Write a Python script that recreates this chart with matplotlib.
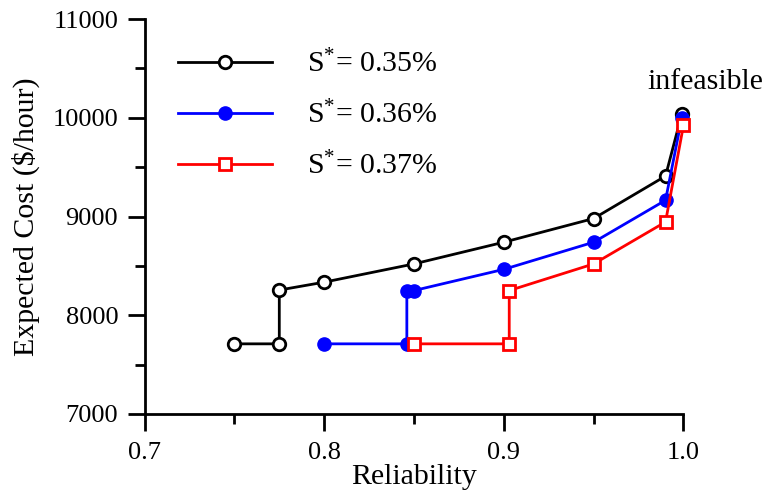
import matplotlib
matplotlib.use("Agg")
import matplotlib.pyplot as plt
from matplotlib.ticker import MultipleLocator

plt.rcParams['font.family'] = ['Liberation Serif', 'DejaVu Serif']
plt.rcParams['mathtext.fontset'] = 'custom'
plt.rcParams['mathtext.rm'] = 'Liberation Serif'
plt.rcParams['mathtext.it'] = 'Liberation Serif:italic'

rel_035 = [0.75, 0.775, 0.775, 0.80, 0.85, 0.90, 0.95, 0.99, 0.999]
cost_035 = [7710, 7710, 8255, 8335, 8520, 8740, 8980, 9410, 10035]
rel_036 = [0.80, 0.846, 0.846, 0.85, 0.90, 0.95, 0.99, 0.999]
cost_036 = [7710, 7710, 8250, 8250, 8465, 8740, 9165, 9995]
rel_037 = [0.85, 0.903, 0.903, 0.95, 0.99, 1.0]
cost_037 = [7710, 7710, 8250, 8520, 8945, 9925]
labels = [r'$\mathregular{S^{*}}$= 0.35%', r'$\mathregular{S^{*}}$= 0.36%', r'$\mathregular{S^{*}}$= 0.37%']
xtick_labels = ['0.7', '0.8', '0.9', '1.0']

fig = plt.figure(figsize=(7.71, 4.91), dpi=100)
ax = fig.add_axes([0.1875, 0.157, 0.699, 0.804])

ax.plot(rel_035, cost_035, color='black', lw=2, marker='o', ms=9,
        mfc='white', mec='black', mew=2, clip_on=False, zorder=3, label=labels[0])
ax.plot(rel_036, cost_036, color='blue', lw=2, marker='o', ms=9.5,
        mfc='blue', mec='blue', mew=1, clip_on=False, zorder=4, label=labels[1])
ax.plot(rel_037, cost_037, color='red', lw=2, marker='s', ms=8,
        mfc='white', mec='red', mew=2, clip_on=False, zorder=5, label=labels[2])

ax.set_xlim(0.7, 1.0)
ax.set_ylim(7000, 11000)
ax.set_xticks([0.7, 0.8, 0.9, 1.0])
ax.set_xticklabels(xtick_labels)
ax.xaxis.set_minor_locator(MultipleLocator(0.05))
ax.yaxis.set_major_locator(MultipleLocator(1000))
ax.yaxis.set_minor_locator(MultipleLocator(500))

for s in ['top', 'right']:
    ax.spines[s].set_visible(False)
for s in ['left', 'bottom']:
    ax.spines[s].set_linewidth(2)

ax.tick_params(which='major', direction='out', length=12, width=2, labelsize=19, pad=8)
ax.tick_params(axis='y', which='major', pad=7)
ax.tick_params(which='minor', direction='out', length=7, width=2)

ax.set_xlabel('Reliability', fontsize=21.5, labelpad=0)
ax.set_ylabel('Expected Cost (\\$/hour)', fontsize=21.5, labelpad=9)

ax.text(1.012, 10362, 'infeasible', fontsize=21.5, ha='center', va='center')

leg = ax.legend(loc='upper left', bbox_to_anchor=(0.039, 0.952), frameon=False,
                fontsize=21.5, handlelength=3.18, handletextpad=1.14, labelspacing=0.75,
                numpoints=1, borderaxespad=0)

fig.savefig('out.png', dpi=100)
